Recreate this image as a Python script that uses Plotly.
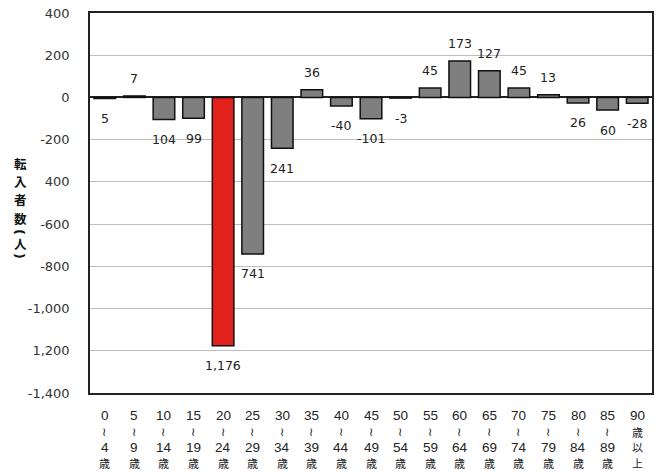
import plotly.graph_objects as go

categories = ["0～4歳", "5～9歳", "10～14歳", "15～19歳", "20～24歳", "25～29歳", "30～34歳",
              "35～39歳", "40～44歳", "45～49歳", "50～54歳", "55～59歳", "60～64歳", "65～69歳",
              "70～74歳", "75～79歳", "80～84歳", "85～89歳", "90歳以上"]
# tick label rows (vertical layout as in the reference)
tick_rows = [
    ["0", "≀", "4", "歳"], ["5", "≀", "9", "歳"], ["10", "≀", "14", "歳"], ["15", "≀", "19", "歳"],
    ["20", "≀", "24", "歳"], ["25", "≀", "29", "歳"], ["30", "≀", "34", "歳"], ["35", "≀", "39", "歳"],
    ["40", "≀", "44", "歳"], ["45", "≀", "49", "歳"], ["50", "≀", "54", "歳"], ["55", "≀", "59", "歳"],
    ["60", "≀", "64", "歳"], ["65", "≀", "69", "歳"], ["70", "≀", "74", "歳"], ["75", "≀", "79", "歳"],
    ["80", "≀", "84", "歳"], ["85", "≀", "89", "歳"], ["90", "歳", "以", "上"],
]
values = [-5, 7, -104, -99, -1176, -741, -241, 36, -40, -101, -3, 45, 173, 127, 45, 13, -26, -60, -28]
labels = ["5", "7", "104", "99", "1,176", "741", "241", "36", "-40", "-101", "-3", "45", "173",
          "127", "45", "13", "26", "60", "-28"]
highlight = "20～24歳"

tick_vals = [400, 200, 0, -200, -400, -600, -800, -1000, -1200, -1400]
tick_text = ["400", "200", "0", "-200", "400", "-600", "-800", "-1,000", "1,200", "-1,400"]

# y-axis title "転入者数（人）", written vertically
title_chars = ["転", "入", "者", "数", "(", "人", ")"]

colors = ["#e3211c" if c == highlight else "#7f7f7f" for c in categories]

W, H = 660, 472
ML, MR, MT, MB = 90, 8, 13, 79
PW, PH = W - ML - MR, H - MT - MB

def py(ypix):
    return (H - MB - ypix) / PH

fig = go.Figure(go.Bar(
    x=categories, y=values,
    marker=dict(color=colors, line=dict(color="#111", width=1.5)),
    cliponaxis=False,
))

annotations = []
title_y = [163, 181, 199, 218, 232, 243, 256]
for ch, yy in zip(title_chars, title_y):
    paren = ch in "()"
    annotations.append(dict(
        text=f"<b>{ch}</b>", x=(20 - ML) / PW, y=py(yy), xref="paper", yref="paper",
        xanchor="center", yanchor="middle", showarrow=False, textangle=90 if paren else 0,
        font=dict(size=13 if paren else 12.5, color="#111",
                  family="DejaVu Sans" if paren else "Noto Sans CJK JP"),
    ))
# value labels
for cat, v, lab in zip(categories, values, labels):
    annotations.append(dict(
        text=lab, x=cat, y=v, xref="x", yref="y", showarrow=False,
        xanchor="center", yanchor="middle", yshift=17 if v > 0 else -20,
        font=dict(size=12.5, color="#222", family="DejaVu Sans"),
    ))
row_y = [415, 432, 447, 463]
for cat, rows in zip(categories, tick_rows):
    for i, t in enumerate(rows):
        wave = t == "≀"
        cjk = t in ("歳", "以", "上")
        annotations.append(dict(
            text=t, x=cat, xref="x", y=py(row_y[i]), yref="paper",
            xanchor="center", yanchor="middle", showarrow=False,
            font=dict(size=12 if wave else (11 if cjk else 13.5), color="#222",
                      family="DejaVu Sans" if wave else ("Noto Sans CJK JP" if cjk else "Liberation Sans")),
        ))

fig.update_layout(
    width=W, height=H,
    margin=dict(l=ML, r=MR, t=MT, b=MB, autoexpand=False),
    paper_bgcolor="white", plot_bgcolor="white",
    bargap=0.27, showlegend=False,
    font=dict(family="Noto Sans CJK JP", color="#222"),
    xaxis=dict(showgrid=False, ticks="", showticklabels=False, mirror=True,
               showline=True, linecolor="#222", linewidth=1.5, automargin=False),
    yaxis=dict(range=[-1400, 400], tickvals=tick_vals, ticktext=tick_text, automargin=False,
               tickfont=dict(size=13, color="#333", family="DejaVu Sans"), showgrid=True,
               gridcolor="#bdbdbd", gridwidth=1, zeroline=True, zerolinecolor="#222",
               zerolinewidth=1.5, showline=True, linecolor="#222", linewidth=1.5, mirror=True,
               ticks="", ticklabelstandoff=16),
    annotations=annotations,
)

fig.write_html("out.html")
